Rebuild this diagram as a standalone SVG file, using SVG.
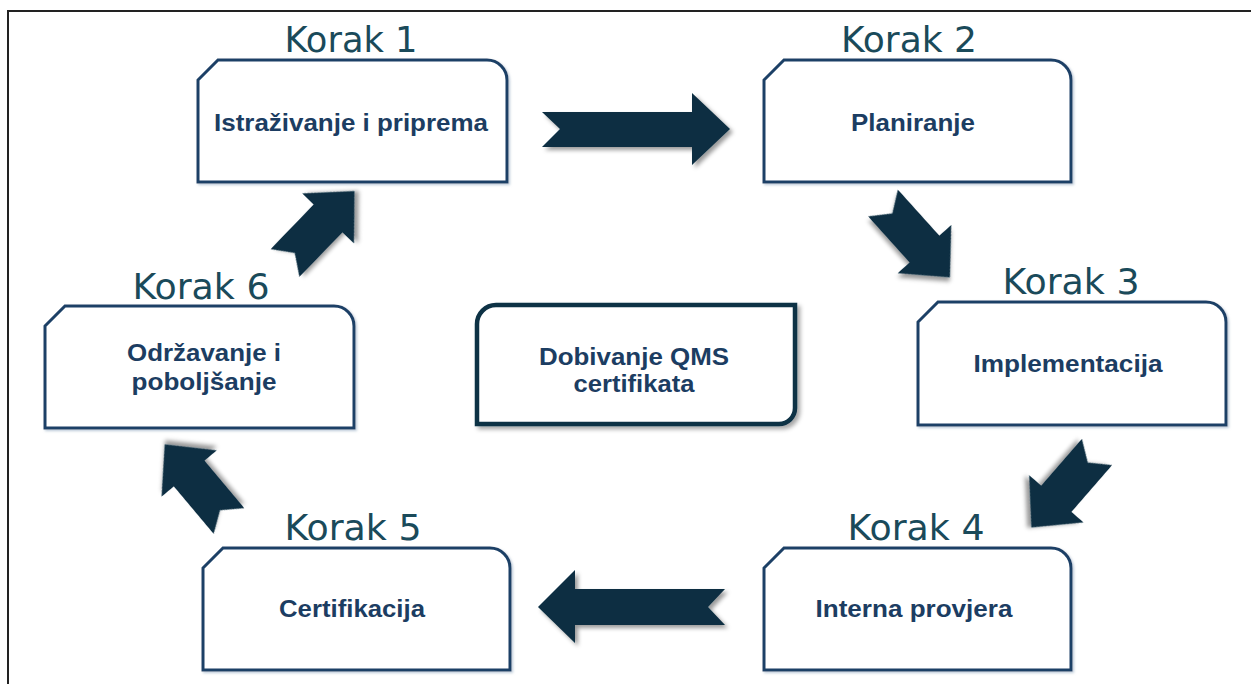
<svg xmlns="http://www.w3.org/2000/svg" width="1251" height="684" viewBox="0 0 1251 684">
<style>
.box{fill:#fff;stroke:#1c3f66;stroke-width:3;filter:url(#bs)}
.center{fill:#fff;stroke:#0f3044;stroke-width:4.5;filter:url(#cs)}
.step{font-family:"DejaVu Sans",sans-serif;font-size:36px;fill:#1a4a5a;text-anchor:middle}
.lbl{font-family:"Liberation Sans",Arial,sans-serif;font-weight:bold;font-size:24.5px;fill:#1c3d62;text-anchor:middle}
.arr{fill:#0b2f42;filter:url(#as)}
</style>
<defs>
<filter id="bs" x="-10%" y="-10%" width="120%" height="130%"><feDropShadow dx="1.5" dy="1.5" stdDeviation="0.8" flood-color="#9fb2c8" flood-opacity="0.7"/></filter>
<filter id="cs" x="-10%" y="-10%" width="120%" height="130%"><feDropShadow dx="3" dy="3" stdDeviation="2" flood-color="#000" flood-opacity="0.35"/></filter>
<filter id="as" x="-20%" y="-20%" width="150%" height="150%"><feDropShadow dx="3" dy="3" stdDeviation="2" flood-color="#000" flood-opacity="0.4"/></filter>
<path id="diag" d="M0,-20 L62,-20 L62,-36 L100,0 L62,36 L62,20 L0,20 L14,0 Z"/>
</defs>
<path d="M8,684 V11 H1251" fill="none" stroke="#222" stroke-width="2"/>

<g id="connectors">
<path class="arr" d="M542,112 L692,112 L692,93 L730,129 L692,165 L692,147 L542,147 L560,129 Z"/>
<use class="arr" href="#diag" transform="translate(883,203) rotate(48)"/>
<use class="arr" href="#diag" transform="translate(1097,452) rotate(131)"/>
<path class="arr" d="M725,589 L575,589 L575,570 L538,607 L575,643 L575,625 L725,625 L708,607 Z"/>
<use class="arr" href="#diag" transform="translate(229,521) rotate(230)"/>
<use class="arr" href="#diag" transform="translate(285,263) rotate(-46)"/>
</g>

<g id="step1">
<text class="step" x="351" y="52" textLength="133" lengthAdjust="spacingAndGlyphs">Korak 1</text>
<path class="box" d="M198,80 L218,60 L487,60 A20,20 0 0 1 507,80 L507,182 L198,182 Z"/>
<text class="lbl" x="351" y="131" textLength="274" lengthAdjust="spacingAndGlyphs">Istraživanje i priprema</text>
</g>
<g id="step2">
<text class="step" x="909" y="52" textLength="136" lengthAdjust="spacingAndGlyphs">Korak 2</text>
<path class="box" d="M764,80 L784,60 L1051,60 A20,20 0 0 1 1071,80 L1071,182 L764,182 Z"/>
<text class="lbl" x="913" y="131" textLength="124" lengthAdjust="spacingAndGlyphs">Planiranje</text>
</g>
<g id="step3">
<text class="step" x="1071" y="294" textLength="137" lengthAdjust="spacingAndGlyphs">Korak 3</text>
<path class="box" d="M918,322 L938,302 L1206,302 A20,20 0 0 1 1226,322 L1226,425 L918,425 Z"/>
<text class="lbl" x="1068" y="372" textLength="189" lengthAdjust="spacingAndGlyphs">Implementacija</text>
</g>
<g id="step4">
<text class="step" x="916" y="540" textLength="137" lengthAdjust="spacingAndGlyphs">Korak 4</text>
<path class="box" d="M764,568 L784,548 L1051,548 A20,20 0 0 1 1071,568 L1071,670 L764,670 Z"/>
<text class="lbl" x="914" y="617" textLength="197" lengthAdjust="spacingAndGlyphs">Interna provjera</text>
</g>
<g id="step5">
<text class="step" x="353" y="540" textLength="137" lengthAdjust="spacingAndGlyphs">Korak 5</text>
<path class="box" d="M203,568 L223,548 L490,548 A20,20 0 0 1 510,568 L510,670 L203,670 Z"/>
<text class="lbl" x="352" y="617" textLength="146" lengthAdjust="spacingAndGlyphs">Certifikacija</text>
</g>
<g id="step6">
<text class="step" x="201" y="299" textLength="137" lengthAdjust="spacingAndGlyphs">Korak 6</text>
<path class="box" d="M45,326 L65,306 L334,306 A20,20 0 0 1 354,326 L354,428 L45,428 Z"/>
<text class="lbl" x="204" y="361" textLength="154" lengthAdjust="spacingAndGlyphs">Održavanje i</text>
<text class="lbl" x="204" y="390" textLength="145" lengthAdjust="spacingAndGlyphs">poboljšanje</text>
</g>
<g id="center">
<path class="center" d="M496,305 L795,305 L795,408 A16,16 0 0 1 779,424 L477,424 L477,324 A19,19 0 0 1 496,305 Z"/>
<text class="lbl" x="634" y="365" textLength="190" lengthAdjust="spacingAndGlyphs">Dobivanje QMS</text>
<text class="lbl" x="634" y="392" textLength="121" lengthAdjust="spacingAndGlyphs">certifikata</text>
</g>
</svg>
